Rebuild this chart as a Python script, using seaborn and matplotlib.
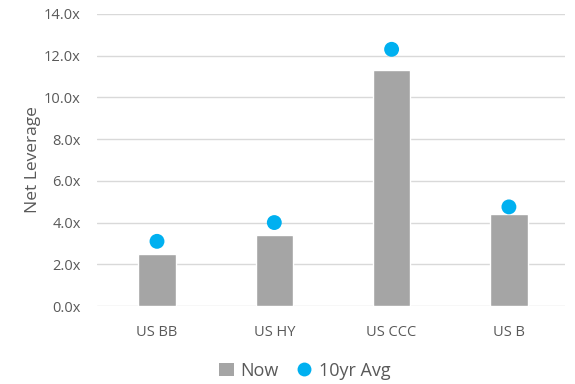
import matplotlib
matplotlib.use("Agg")
import matplotlib.pyplot as plt
import seaborn as sns
import pandas as pd
from matplotlib.ticker import FuncFormatter
from matplotlib.lines import Line2D
from matplotlib.patches import Patch

categories = ["US BB", "US HY", "US CCC", "US B"]
now = [2.5, 3.4, 11.3, 4.4]
avg_10yr = [3.1, 4.0, 12.3, 4.75]

df = pd.DataFrame({"cat": categories, "Now": now, "10yr Avg": avg_10yr})

sns.set_theme(style="white")
plt.rcParams['font.family'] = ['Open Sans', 'DejaVu Sans']
txt = "#595959"

fig = plt.figure(figsize=(5.75, 3.84), dpi=100)
ax = fig.add_axes([0.169, 0.203, 0.814, 0.761])

sns.barplot(data=df, x="cat", y="Now", color="#A5A5A5", saturation=1, width=0.32, ax=ax, zorder=2)
sns.scatterplot(data=df, x="cat", y="10yr Avg", color="#00B0F0", s=115, edgecolor="none", ax=ax, zorder=3)

ax.set_ylim(0, 14)
ax.set_xlim(-0.51, 3.48)
ax.set_yticks([0, 2, 4, 6, 8, 10, 12, 14])
ax.yaxis.set_major_formatter(FuncFormatter(lambda v, p: f"{v:.1f}x"))
ax.grid(axis="y", color="#D9D9D9", linewidth=1, zorder=0)
ax.set_axisbelow(True)
for s in ax.spines.values():
    s.set_visible(False)
ax.tick_params(axis="both", length=0, labelsize=10.5, labelcolor=txt)
ax.tick_params(axis="y", pad=12)
ax.tick_params(axis="x", pad=14)
ax.set_xlabel("")
ax.set_ylabel("Net Leverage", fontsize=12.5, color=txt, labelpad=2)

handles = [Patch(facecolor="#A5A5A5", edgecolor="none", label="Now"),
           Line2D([0], [0], marker="o", linestyle="none", markersize=10,
                  markerfacecolor="#00B0F0", markeredgecolor="none", label="10yr Avg")]
leg = fig.legend(handles=handles, loc="center", bbox_to_anchor=(0.53, 0.035), ncol=2,
                 frameon=False, fontsize=13, handlelength=0.8, handletextpad=0.4,
                 columnspacing=1.0)
for t in leg.get_texts():
    t.set_color(txt)

fig.savefig("out.png", dpi=100)
